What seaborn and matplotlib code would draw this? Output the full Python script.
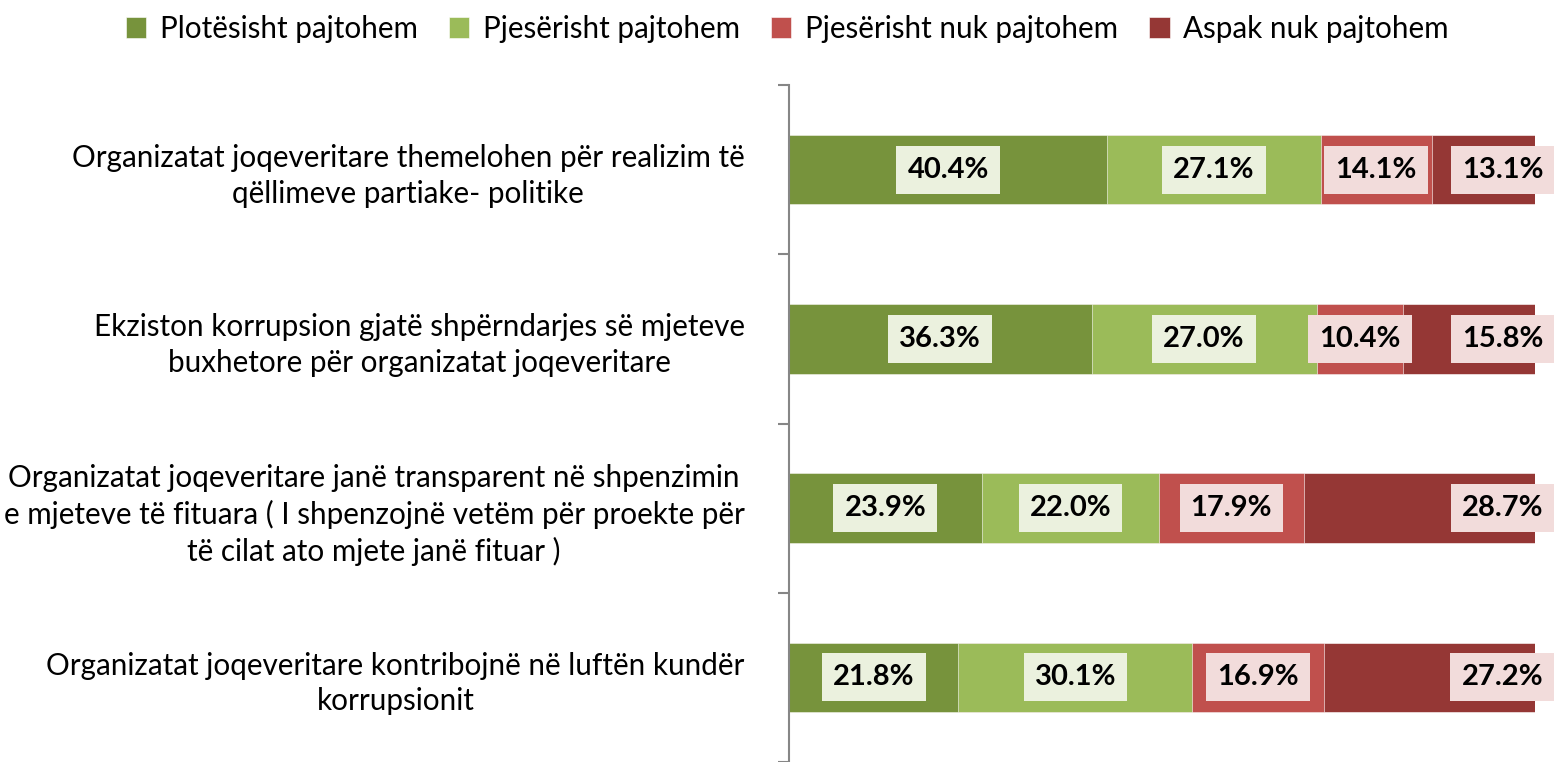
#!/usr/bin/env python
"""
Stacked 100% horizontal bars: attitudes towards NGOs.
"""

import numpy as np
import pandas as pd
import seaborn as sns
import matplotlib.pyplot as plt

# --- Data

categories = [
    "Organizatat joqeveritare themelohen për realizim të\nqëllimeve partiake- politike",
    "Ekziston korrupsion gjatë shpërndarjes së mjeteve\nbuxhetore për organizatat joqeveritare",
    "Organizatat joqeveritare janë transparent në shpenzimin\ne mjeteve të fituara ( I shpenzojnë vetëm për proekte për\ntë cilat ato mjete janë fituar )",
    "Organizatat joqeveritare kontribojnë në luftën kundër\nkorrupsionit",
]
series = ["Plotësisht pajtohem", "Pjesërisht pajtohem",
          "Pjesërisht nuk pajtohem", "Aspak nuk pajtohem"]
plotesisht = [40.4, 36.3, 23.9, 21.8]
pjeserisht = [27.1, 27.0, 22.0, 30.1]
pjeserisht_nuk = [14.1, 10.4, 17.9, 16.9]
aspak = [13.1, 15.8, 28.7, 27.2]

colors = ["#77933C", "#9BBB59", "#C0504D", "#953735"]
box_colors = ["#EBF1DE", "#EBF1DE", "#F2DCDB", "#F2DCDB"]

# --- Plot

sns.set_style("white")
plt.rcParams['font.family'] = ['Lato', 'DejaVu Sans']
plt.rcParams['text.color'] = 'black'
plt.rcParams['ytick.color'] = 'black'

df = pd.DataFrame({"cat": categories, series[0]: plotesisht, series[1]: pjeserisht,
                   series[2]: pjeserisht_nuk, series[3]: aspak})
vals = df[series].to_numpy()
share = vals / vals.sum(axis=1, keepdims=True)   # Excel 100% stacked
cum = np.cumsum(share, axis=1)

fig = plt.figure(figsize=(15.55, 7.62), dpi=100)
ax = fig.add_axes([789 / 1555, 0.0, (1535 - 789) / 1555, 1 - 85 / 762])

# draw cumulative totals from the back so the segments stack
for i in reversed(range(len(series))):
    sns.barplot(x=cum[:, i], y=df["cat"], orient="h", color=colors[i],
                width=0.41, ax=ax, label=series[i], saturation=1,
                edgecolor="white", linewidth=0.4)

# value labels
for r in range(len(categories)):
    for i in range(len(series)):
        left = cum[r, i] - share[r, i]
        if i == len(series) - 1:
            x, ha = 1.011, "right"
        else:
            x, ha = left + share[r, i] / 2, "center"
        ax.text(x, r, f"{vals[r, i]:.1f}%", ha=ha, va="center",
                fontsize=21, fontweight="bold", color="black", clip_on=False,
                bbox=dict(boxstyle="square,pad=0.38", fc=box_colors[i], ec="none"))

ax.set_xlim(0, 1)
ax.set_ylim(3.5, -0.5)
ax.set_xlabel("")
ax.set_ylabel("")
ax.set_xticks([])
ax.set_yticks(np.arange(-0.5, 4.0, 1.0))
ax.set_yticklabels([])
ax.set_yticks(np.arange(4), minor=True)
ax.set_yticklabels(categories, minor=True, fontsize=21.3, multialignment="center",
                   linespacing=1.33)
ax.tick_params(axis="y", which="major", left=True, length=8, width=1.5,
               color="#868686", direction="out")
ax.tick_params(axis="y", which="minor", left=False, length=0, pad=32)
for s in ["top", "right", "bottom"]:
    ax.spines[s].set_visible(False)
ax.spines["left"].set_color("#868686")
ax.spines["left"].set_linewidth(1.5)

handles, labels = ax.get_legend_handles_labels()
order = [labels.index(s) for s in series]
ax.legend([handles[k] for k in order], series, loc="upper center",
          bbox_to_anchor=(787 / 1555, 1.0), bbox_transform=fig.transFigure,
          ncol=4, frameon=False, fontsize=21.3, handlelength=0.7, handleheight=0.7,
          handletextpad=0.45, columnspacing=1.05, borderaxespad=0.1)

fig.savefig("out.png", dpi=100)
